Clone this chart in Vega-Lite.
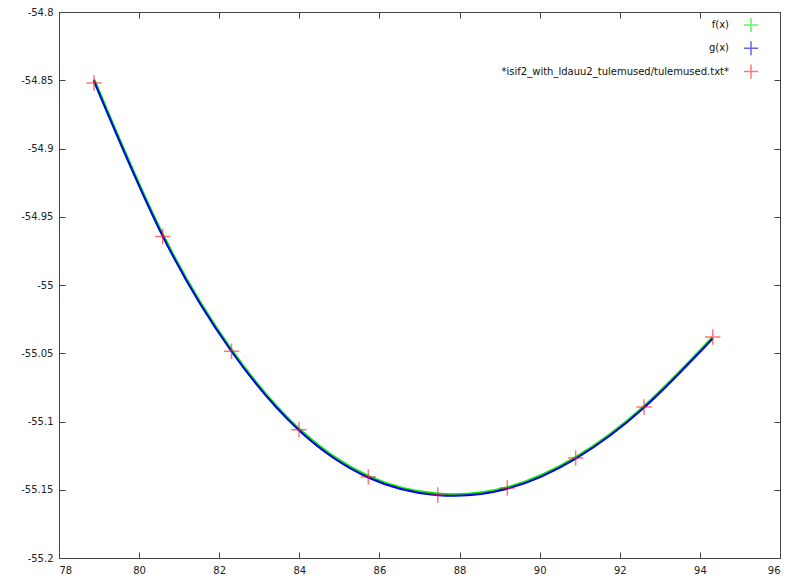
{
  "$schema": "https://vega.github.io/schema/vega-lite/v6.json",
  "width": 721,
  "height": 546,
  "autosize": {"type": "none"},
  "padding": {"left": 59, "top": 12, "right": 20, "bottom": 24},
  "background": "white",
  "config": {
    "locale": {"number": {"decimal": ".", "thousands": ",", "grouping": [3], "currency": ["$", ""], "minus": "-"}},
    "view": {"stroke": "#444", "strokeWidth": 1},
    "font": "DejaVu Sans",
    "axis": {
      "grid": false,
      "domain": false,
      "tickColor": "#444",
      "tickSize": -6,
      "tickWidth": 1,
      "labelFontSize": 10,
      "labelFont": "DejaVu Sans",
      "labelColor": "#222"
    },
    "legend": {
      "padding": 0,
      "labelFont": "DejaVu Sans",
      "labelFontSize": 10,
      "labelColor": "#111",
      "labelAlign": "right",
      "labelOffset": -30,
      "labelLimit": 0,
      "rowPadding": 1.3
    }
  },
  "datasets": {
    "f": [
      {"x": 78.87, "y": -54.8495, "series": "f(x)"},
      {"x": 80.59, "y": -54.9634, "series": "f(x)"},
      {"x": 82.31, "y": -55.0479, "series": "f(x)"},
      {"x": 83.99, "y": -55.1056, "series": "f(x)"},
      {"x": 85.72, "y": -55.1402, "series": "f(x)"},
      {"x": 87.46, "y": -55.1532, "series": "f(x)"},
      {"x": 89.19, "y": -55.1485, "series": "f(x)"},
      {"x": 90.90, "y": -55.1264, "series": "f(x)"},
      {"x": 92.60, "y": -55.0892, "series": "f(x)"},
      {"x": 94.32, "y": -55.0384, "series": "f(x)"}
    ],
    "g": [
      {"x": 78.87, "y": -54.8503, "series": "g(x)"},
      {"x": 80.59, "y": -54.9642, "series": "g(x)"},
      {"x": 82.31, "y": -55.0487, "series": "g(x)"},
      {"x": 83.99, "y": -55.1064, "series": "g(x)"},
      {"x": 85.72, "y": -55.1410, "series": "g(x)"},
      {"x": 87.46, "y": -55.1540, "series": "g(x)"},
      {"x": 89.19, "y": -55.1493, "series": "g(x)"},
      {"x": 90.90, "y": -55.1272, "series": "g(x)"},
      {"x": 92.60, "y": -55.0900, "series": "g(x)"},
      {"x": 94.32, "y": -55.0392, "series": "g(x)"}
    ],
    "pts": [
      {"x": 78.874, "y": -54.8520, "series": "*isif2_with_ldauu2_tulemused/tulemused.txt*"},
      {"x": 80.589, "y": -54.9644, "series": "*isif2_with_ldauu2_tulemused/tulemused.txt*"},
      {"x": 82.307, "y": -55.0485, "series": "*isif2_with_ldauu2_tulemused/tulemused.txt*"},
      {"x": 83.992, "y": -55.1060, "series": "*isif2_with_ldauu2_tulemused/tulemused.txt*"},
      {"x": 85.722, "y": -55.1407, "series": "*isif2_with_ldauu2_tulemused/tulemused.txt*"},
      {"x": 87.457, "y": -55.1538, "series": "*isif2_with_ldauu2_tulemused/tulemused.txt*"},
      {"x": 89.192, "y": -55.1487, "series": "*isif2_with_ldauu2_tulemused/tulemused.txt*"},
      {"x": 90.899, "y": -55.1267, "series": "*isif2_with_ldauu2_tulemused/tulemused.txt*"},
      {"x": 92.605, "y": -55.0894, "series": "*isif2_with_ldauu2_tulemused/tulemused.txt*"},
      {"x": 94.320, "y": -55.0381, "series": "*isif2_with_ldauu2_tulemused/tulemused.txt*"}
    ]
  },
  "layer": [
    {
      "data": {"name": "f"},
      "mark": {"type": "line", "strokeWidth": 3, "interpolate": "natural"},
      "encoding": {
        "x": {
          "field": "x", "type": "quantitative", "title": null,
          "scale": {"domain": [78, 96], "nice": false, "zero": false},
          "axis": {"orient": "bottom", "values": [78, 80, 82, 84, 86, 88, 90, 92, 94, 96], "labelPadding": 13.5, "format": "d"}
        },
        "y": {
          "field": "y", "type": "quantitative", "title": null,
          "scale": {"domain": [-55.2, -54.8], "nice": false, "zero": false},
          "axis": {
            "orient": "left",
            "values": [-55.2, -55.15, -55.1, -55.05, -55, -54.95, -54.9, -54.85, -54.8],
            "labelPadding": 12,
            "format": ".2~f"
          }
        },
        "color": {
          "field": "series", "type": "nominal", "title": null,
          "scale": {
            "domain": ["f(x)", "g(x)", "*isif2_with_ldauu2_tulemused/tulemused.txt*"],
            "range": ["#00ee00", "#0000ee", "#ff2020"]
          },
          "legend": {
            "orient": "none",
            "legendX": 684,
            "legendY": 5,
            "encode": {
              "symbols": {
                "update": {
                  "shape": {"condition": {"test": "datum.value === 'f(x)' || datum.value === 'g(x)'", "value": "stroke"}, "value": "M-1,0L1,0M0,-1L0,1"},
                  "size": {"condition": {"test": "datum.value === 'f(x)' || datum.value === 'g(x)'", "value": 1024}, "value": 200},
                  "strokeWidth": {"condition": [{"test": "datum.value === 'f(x)'", "value": 3}, {"test": "datum.value === 'g(x)'", "value": 2}], "value": 1.5},
                  "opacity": {"condition": {"test": "datum.value === 'f(x)' || datum.value === 'g(x)'", "value": 1}, "value": 0.6}
                }
              }
            }
          }
        }
      }
    },
    {
      "data": {"name": "g"},
      "mark": {"type": "line", "strokeWidth": 2, "interpolate": "natural"},
      "encoding": {
        "x": {"field": "x", "type": "quantitative", "scale": {"domain": [78, 96], "nice": false, "zero": false}, "axis": null},
        "y": {"field": "y", "type": "quantitative", "scale": {"domain": [-55.2, -54.8], "nice": false, "zero": false}, "axis": null},
        "color": {"field": "series", "type": "nominal", "legend": null}
      }
    },
    {
      "data": {"name": "pts"},
      "mark": {"type": "point", "shape": "M-1,0L1,0M0,-1L0,1", "filled": false, "size": 240, "strokeWidth": 1.5, "opacity": 0.6},
      "encoding": {
        "x": {
          "field": "x", "type": "quantitative", "title": null,
          "scale": {"domain": [78, 96], "nice": false, "zero": false},
          "axis": {"orient": "top", "values": [78, 80, 82, 84, 86, 88, 90, 92, 94, 96], "labels": false}
        },
        "y": {
          "field": "y", "type": "quantitative", "title": null,
          "scale": {"domain": [-55.2, -54.8], "nice": false, "zero": false},
          "axis": {"orient": "right", "values": [-55.2, -55.15, -55.1, -55.05, -55, -54.95, -54.9, -54.85, -54.8], "labels": false}
        },
        "color": {"field": "series", "type": "nominal", "legend": null}
      }
    }
  ],
  "resolve": {
    "scale": {"x": "independent", "y": "independent"},
    "axis": {"x": "independent", "y": "independent"}
  }
}
